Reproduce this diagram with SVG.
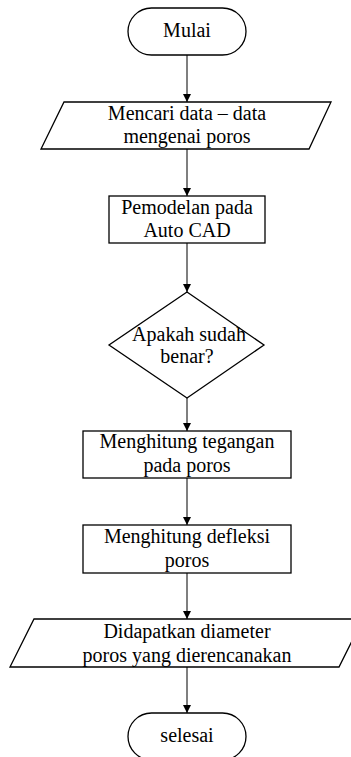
<svg xmlns="http://www.w3.org/2000/svg" width="351" height="757" viewBox="0 0 351 757">
<style>
.s{fill:#fff;stroke:#000;stroke-width:1.3}
.t{font-family:"Liberation Serif","Times New Roman",serif;font-size:20px;fill:#000;text-anchor:middle}
.c{stroke:#555;stroke-width:1.5;fill:none;marker-end:url(#ah)}
</style>
<defs>
<marker id="ah" markerWidth="8" markerHeight="8" refX="8" refY="4" orient="auto" markerUnits="userSpaceOnUse">
<path d="M0,0 L8,4 L0,8 Z" fill="#000"/>
</marker>
</defs>
<rect width="351" height="757" fill="#fff"/>
<g id="connectors">
<line class="c" x1="187" y1="55" x2="187" y2="102"/>
<line class="c" x1="187" y1="149" x2="187" y2="196"/>
<line class="c" x1="187" y1="243" x2="187" y2="292"/>
<line class="c" x1="187" y1="398" x2="187" y2="431"/>
<line class="c" x1="187" y1="478" x2="187" y2="525"/>
<line class="c" x1="187" y1="573" x2="187" y2="619"/>
<line class="c" x1="187" y1="667" x2="187" y2="713"/>
</g>
<g id="mulai">
<rect class="s" x="128" y="8" width="118" height="47" rx="23.5" ry="23.5"/>
<text class="t" x="187" y="37">Mulai</text>
</g>
<g id="mencari">
<polygon class="s" points="64,102 331,102 309,149 41,149"/>
<text class="t" x="187" y="120">Mencari data – data</text>
<text class="t" x="187" y="143">mengenai poros</text>
</g>
<g id="pemodelan">
<rect class="s" x="109" y="196" width="156" height="47"/>
<text class="t" x="187" y="214">Pemodelan pada</text>
<text class="t" x="187" y="237">Auto CAD</text>
</g>
<g id="apakah">
<polygon class="s" points="187,292 264,345 187,398 109,345"/>
<text class="t" x="189" y="341">Apakah sudah</text>
<text class="t" x="187" y="363">benar?</text>
</g>
<g id="tegangan">
<rect class="s" x="83" y="431" width="208" height="47"/>
<text class="t" x="187" y="448">Menghitung tegangan</text>
<text class="t" x="187" y="472">pada poros</text>
</g>
<g id="defleksi">
<rect class="s" x="83" y="525" width="208" height="48"/>
<text class="t" x="187" y="543">Menghitung defleksi</text>
<text class="t" x="187" y="567">poros</text>
</g>
<g id="didapatkan">
<polygon class="s" points="34,619 363,619 339,667 10,667"/>
<text class="t" x="187" y="638">Didapatkan diameter</text>
<text class="t" x="187" y="662">poros yang dierencanakan</text>
</g>
<g id="selesai">
<rect class="s" x="128" y="713" width="118" height="47" rx="23.5" ry="23.5"/>
<text class="t" x="187" y="742">selesai</text>
</g>
</svg>
